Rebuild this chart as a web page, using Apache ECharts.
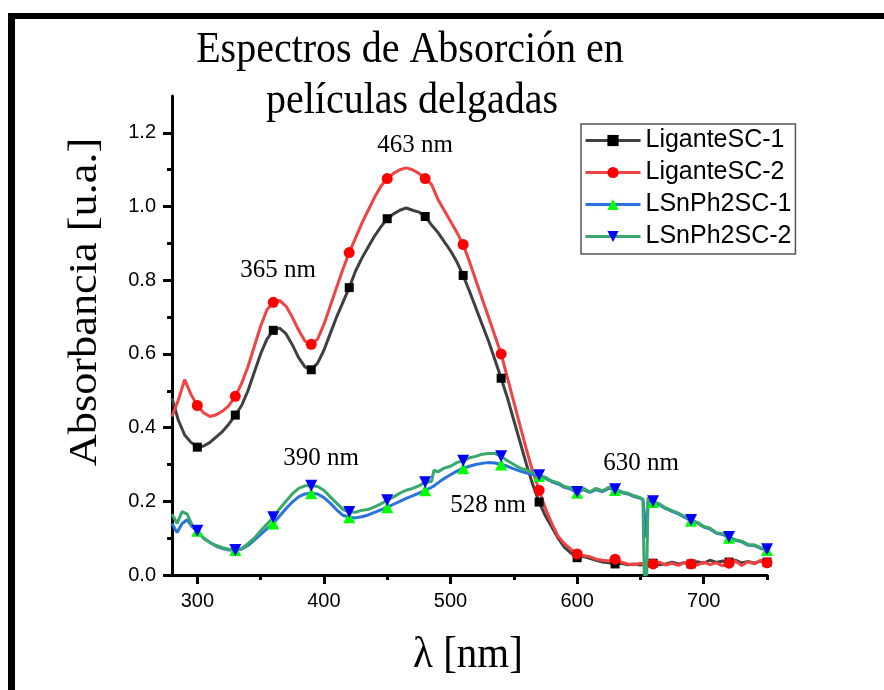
<!DOCTYPE html>
<html><head><meta charset="utf-8">
<script src="https://cdn.jsdelivr.net/npm/echarts@6/dist/echarts.min.js"></script>
<style>html,body{margin:0;padding:0;background:#fff}#c{width:884px;height:690px}</style>
</head><body><div id="c"></div>
<script>
// ---- data ----
const WL_L = [280,285,290,295,300,305,310,315,320,325,330,335,340,345,350,355,360,365,370,375,380,385,390,395,400,405,410,415,420,425,430,435,440,445,450,455,460,465,470,475,480,485,490,495,500,505,510,515,520,525,530,535,540,545,550,555,560,565,570,575,580,585,590,595,600,605,610,615,620,625,630,635,640,645,650,655,660,665,670,675,680,685,690,695,700,705,710,715,720,725,730,735,740,745,750];
const ligante1 = [0.48,0.42,0.38,0.36,0.347,0.35,0.36,0.375,0.39,0.41,
  0.434,0.46,0.50,0.55,0.60,0.64,0.664,0.67,0.655,0.625,
  0.59,0.565,0.557,0.575,0.61,0.655,0.70,0.74,0.78,0.825,
  0.86,0.89,0.92,0.945,0.967,0.98,0.99,0.996,0.99,0.985,
  0.973,0.95,0.93,0.905,0.88,0.85,0.813,0.77,0.725,0.68,
  0.635,0.585,0.534,0.48,0.42,0.36,0.30,0.245,0.198,0.16,
  0.13,0.10,0.075,0.06,0.047,0.05,0.045,0.04,0.035,0.033,
  0.03,0.032,0.028,0.03,0.027,0.03,0.032,0.028,0.03,0.035,
  0.03,0.033,0.03,0.036,0.032,0.04,0.034,0.038,0.035,0.04,
  0.033,0.037,0.032,0.038,0.035];
const ligante2 = [0.43,0.475,0.53,0.49,0.46,0.44,0.43,0.435,0.445,0.46,
  0.485,0.52,0.565,0.62,0.675,0.72,0.74,0.745,0.73,0.70,
  0.665,0.635,0.626,0.64,0.68,0.73,0.78,0.83,0.875,0.915,
  0.955,0.99,1.025,1.055,1.076,1.09,1.10,1.105,1.10,1.09,
  1.076,1.06,1.02,0.99,0.96,0.93,0.897,0.85,0.80,0.75,
  0.70,0.65,0.60,0.535,0.47,0.405,0.34,0.28,0.23,0.18,
  0.14,0.105,0.085,0.07,0.057,0.052,0.05,0.043,0.04,0.038,
  0.043,0.035,0.03,0.028,0.032,0.025,0.03,0.035,0.027,0.032,
  0.026,0.034,0.03,0.027,0.035,0.028,0.033,0.025,0.032,0.038,
  0.026,0.036,0.03,0.04,0.033];
const WL_S = [280,284,288,292,296,
  300,305,310,315,320,325,330,335,340,345,
  350,355,360,365,370,375,380,385,390,395,
  400,405,410,415,420,425,430,435,440,445,
  450,455,460,465,470,475,480,485,487,
  490,495,500,505,510,515,520,525,530,535,
  540,545,550,555,560,565,570,575,580,585,
  590,595,600,605,610,615,620,625,630,635,
  640,645,650,652,653,655,656,
  660,665,670,675,680,685,690,695,700,705,
  710,715,720,725,730,735,740,745,750];
const lsnph1 = [0.14,0.115,0.14,0.15,0.13,
  0.12,0.10,0.088,0.078,0.072,0.068,0.068,0.07,0.08,0.095,
  0.11,0.125,0.14,0.16,0.18,0.198,0.212,0.22,0.222,0.22,
  0.21,0.195,0.177,0.162,0.157,0.155,0.158,0.163,0.17,0.177,
  0.184,0.192,0.20,0.208,0.215,0.222,0.23,0.238,0.242,
  0.25,0.262,0.272,0.282,0.29,0.295,0.30,0.303,0.305,0.304,
  0.30,0.295,0.288,0.282,0.277,0.273,0.269,0.262,0.253,0.247,
  0.238,0.233,0.223,0.232,0.224,0.232,0.226,0.235,0.231,0.224,
  0.22,0.213,0.208,0.205,0.2,0.1,0.2,
  0.198,0.19,0.18,0.173,0.166,0.156,0.147,0.141,0.13,0.125,
  0.113,0.11,0.101,0.094,0.09,0.081,0.08,0.072,0.068];
const lsnph2 = [0.165,0.14,0.172,0.165,0.135,
  0.12,0.10,0.088,0.08,0.074,0.07,0.068,0.072,0.085,0.10,
  0.12,0.138,0.157,0.18,0.20,0.22,0.235,0.242,0.242,0.24,
  0.23,0.212,0.195,0.178,0.171,0.17,0.176,0.178,0.185,0.193,
  0.203,0.212,0.222,0.23,0.235,0.242,0.252,0.254,0.285,
  0.28,0.29,0.295,0.305,0.31,0.318,0.322,0.328,0.33,0.33,
  0.322,0.31,0.30,0.29,0.285,0.278,0.271,0.265,0.255,0.25,
  0.24,0.236,0.225,0.235,0.226,0.235,0.228,0.238,0.233,0.226,
  0.222,0.215,0.21,0.205,0.0,0.0,0.21,
  0.20,0.193,0.182,0.175,0.168,0.158,0.149,0.143,0.132,0.127,
  0.115,0.112,0.103,0.096,0.092,0.083,0.082,0.074,0.07];
const markerWL = [300,330,360,390,420,450,480,510,540,570,600,630,660,690,720,750];
const seriesNames = ['LiganteSC-1','LiganteSC-2','LSnPh2SC-1','LSnPh2SC-2'];
const xMajor = [300,400,500,600,700];
const xMinor = [350,450,550,650,750];
const yMajor = [0,0.2,0.4,0.6,0.8,1.0,1.2];
const yMinor = [0.1,0.3,0.5,0.7,0.9,1.1];
const peakLabels = ['463 nm','365 nm','390 nm','528 nm','630 nm'];
const titleLines = ['Espectros de Absorción en','películas delgadas'];

// ---- chart ----
const SERIF = '"Times New Roman","Liberation Serif",serif';
const SANS = 'Arial,"Liberation Sans",sans-serif';
function build(xs, ys){
  return xs.map((x,i)=> markerWL.includes(x) ? {value:[x,ys[i]]} : {value:[x,ys[i]], symbol:'none'});
}
function mkSeries(name, xs, ys, lineColor, symColor, symbol, size, rot){
  return {type:'line', name, data:build(xs,ys), symbol, symbolSize:size, symbolRotate:rot||0,
    showSymbol:true, showAllSymbol:true, animation:false, emphasis:{disabled:true},
    lineStyle:{color:lineColor, width:3}, itemStyle:{color:symColor}};
}
const chart = echarts.init(document.getElementById('c'), null, {renderer:'canvas'});
const axisCommon = {type:'value', splitLine:{show:false}};
chart.setOption({
  backgroundColor:'#fff',
  animation:false,
  grid:{left:172, right:117, top:96, bottom:115},
  xAxis:[
    Object.assign({}, axisCommon, {min:280, max:750, position:'bottom',
      axisLine:{lineStyle:{color:'#000', width:3}},
      axisTick:{customValues:xMajor, length:9, lineStyle:{color:'#000', width:3}},
      axisLabel:{customValues:xMajor, fontSize:20, color:'#000', fontFamily:SANS, margin:16}}),
    Object.assign({}, axisCommon, {min:280, max:750, position:'bottom',
      axisLine:{show:false},
      axisTick:{customValues:xMinor, length:5, lineStyle:{color:'#000', width:3}},
      axisLabel:{show:false}})
  ],
  yAxis:[
    Object.assign({}, axisCommon, {min:0, max:1.3, position:'left',
      axisLine:{show:true, lineStyle:{color:'#000', width:3}},
      axisTick:{show:true, customValues:yMajor, length:9, lineStyle:{color:'#000', width:3}},
      axisLabel:{customValues:yMajor, fontSize:20, color:'#000', fontFamily:SANS, margin:16,
        formatter:v=>Number(v).toFixed(1)}}),
    Object.assign({}, axisCommon, {min:0, max:1.3, position:'left',
      axisLine:{show:false},
      axisTick:{show:true, customValues:yMinor, length:5, lineStyle:{color:'#000', width:3}},
      axisLabel:{show:false}})
  ],
  legend:{data:seriesNames, orient:'vertical', left:581, top:124, itemWidth:55, itemHeight:14, itemGap:7,
    padding:[4,4,5,3], borderColor:'#555', borderWidth:1.5, backgroundColor:'#fff',
    textStyle:{fontSize:25, fontFamily:SANS, color:'#000'}, lineStyle:{width:3}},
  series:[
    mkSeries(seriesNames[0], WL_L, ligante1, '#404040', '#000000', 'rect', 9),
    mkSeries(seriesNames[1], WL_L, ligante2, '#f04343', '#ff0000', 'circle', 11),
    mkSeries(seriesNames[2], WL_S, lsnph1, '#2a72dc', '#00ff00', 'triangle', 12),
    mkSeries(seriesNames[3], WL_S, lsnph2, '#38a86c', '#0000ff', 'triangle', 12, 180)
  ],
  graphic:[
    {type:'rect', shape:{x:8, y:13, width:876, height:6}, style:{fill:'#000'}, silent:true},
    {type:'rect', shape:{x:8, y:13, width:7, height:677}, style:{fill:'#000'}, silent:true},
    {type:'text', x:410, y:50, scaleY:1.1, style:{text:titleLines[0], font:'40px '+SERIF, fill:'#000', align:'center', verticalAlign:'middle', textAlign:'center', textVerticalAlign:'middle'}},
    {type:'text', x:412, y:101, scaleY:1.1, style:{text:titleLines[1], font:'40px '+SERIF, fill:'#000', align:'center', verticalAlign:'middle', textAlign:'center', textVerticalAlign:'middle'}},
    {type:'text', x:85, y:302, rotation:Math.PI/2, scaleX:1.08, style:{text:'Absorbancia [u.a.]', font:'41px '+SERIF, fill:'#000', align:'center', verticalAlign:'middle', textAlign:'center', textVerticalAlign:'middle'}},
    {type:'text', x:468, y:655, scaleY:1.1, style:{text:'λ [nm]', font:'41px '+SERIF, fill:'#000', align:'center', verticalAlign:'middle', textAlign:'center', textVerticalAlign:'middle'}},
    {type:'text', x:415, y:145, style:{text:peakLabels[0], font:'25px '+SERIF, fill:'#000', align:'center', verticalAlign:'middle', textAlign:'center', textVerticalAlign:'middle'}},
    {type:'text', x:278, y:270, style:{text:peakLabels[1], font:'25px '+SERIF, fill:'#000', align:'center', verticalAlign:'middle', textAlign:'center', textVerticalAlign:'middle'}},
    {type:'text', x:321, y:458, style:{text:peakLabels[2], font:'25px '+SERIF, fill:'#000', align:'center', verticalAlign:'middle', textAlign:'center', textVerticalAlign:'middle'}},
    {type:'text', x:488, y:505, style:{text:peakLabels[3], font:'25px '+SERIF, fill:'#000', align:'center', verticalAlign:'middle', textAlign:'center', textVerticalAlign:'middle'}},
    {type:'text', x:641, y:463, style:{text:peakLabels[4], font:'25px '+SERIF, fill:'#000', align:'center', verticalAlign:'middle', textAlign:'center', textVerticalAlign:'middle'}}
  ]
});
</script></body></html>
